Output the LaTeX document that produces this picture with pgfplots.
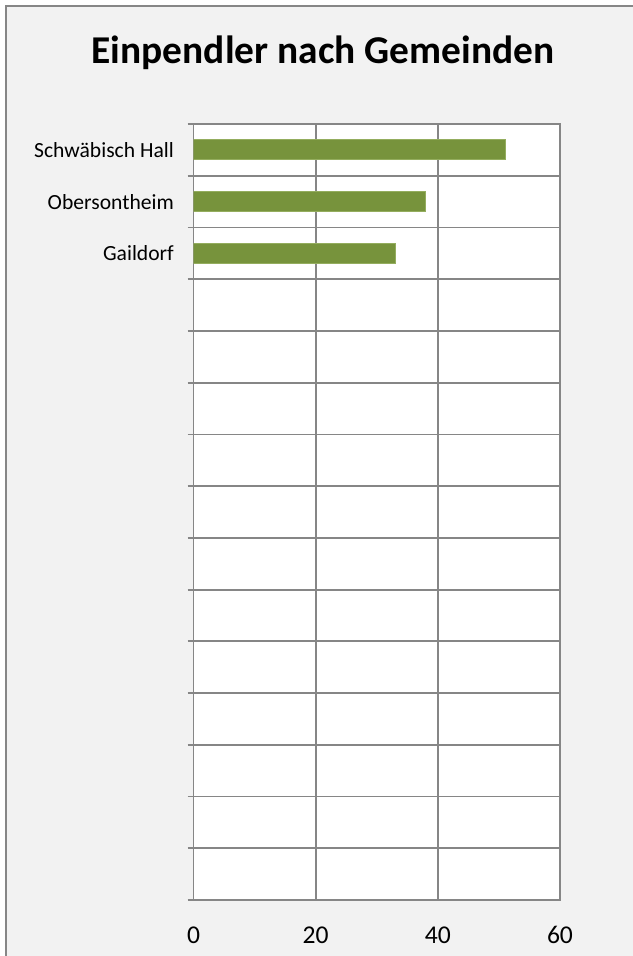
\documentclass[border=0pt]{standalone}
\usepackage{pgfplots}
\pgfplotsset{compat=1.18}
\usepackage{fontspec}
\setmainfont{Carlito}
\definecolor{bargreen}{HTML}{77933C}
\definecolor{baredge}{HTML}{94AD5E}
\definecolor{gridgray}{HTML}{868686}
\definecolor{bggray}{HTML}{F2F2F2}
\begin{document}
\begin{tikzpicture}
\useasboundingbox (0,0) rectangle (316pt,478pt);
\fill[white] (0,0) rectangle (316pt,478pt);
\fill[bggray] (2.75pt,-5pt) rectangle (330pt,474.75pt);
\draw[gridgray, line width=1pt] (2.75pt,-5pt) -- (2.75pt,474.75pt) -- (330pt,474.75pt);
\node[anchor=base, inner sep=0pt, font=\fontsize{19.7}{22}\selectfont\bfseries] at (161.5pt,446.3pt) {Einpendler nach Gemeinden};
\begin{axis}[
 at={(96.75pt,28pt)}, anchor=south west, scale only axis,
 width=183.25pt, height=388pt,
 xbar, bar width=10pt,
 xmin=0, xmax=60, ymin=-0.5, ymax=14.5, y dir=reverse,
 xtick={0,20,40,60},
 ytick={-0.5,0.5,...,14.5}, yticklabels={},
 tick pos=left,
 grid=major, grid style={gridgray, line width=0.9pt},
 axis line style={gridgray, line width=0.9pt},
 tick style={gridgray, line width=0.9pt},
 xtick style={draw=none},
 major tick length=3pt, tick align=outside,
 extra y ticks={0,1,2},
 extra y tick labels={Schwäbisch Hall, Obersontheim, Gaildorf},
 extra y tick style={grid=none, major tick length=0pt, tick style={draw=none}, yticklabel style={xshift=-6.3pt}},
 yticklabel style={font=\fontsize{10.8}{13}\selectfont},
 xticklabel style={font=\fontsize{12.8}{15}\selectfont, text height=9pt, text depth=0pt, anchor=north, yshift=-6.3pt},
 /pgf/number format/assume math mode=true,
 axis background/.style={fill=white},
]
\addplot[fill=bargreen, draw=baredge, line width=0.5pt] coordinates {(51,0) (38,1) (33,2)};
\end{axis}
\end{tikzpicture}
\end{document}
